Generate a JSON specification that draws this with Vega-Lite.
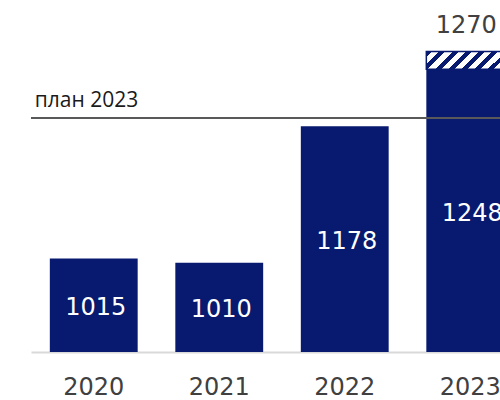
{
  "$schema": "https://vega.github.io/schema/vega-lite/v6.json",
  "autosize": {"type": "none"},
  "padding": {"left": 31, "top": 27, "right": 0, "bottom": 48},
  "width": 469,
  "height": 325,
  "background": "white",
  "config": {"view": {"stroke": null}},
  "data": {
    "values": [
      {"year": "2020", "value": 1015},
      {"year": "2021", "value": 1010},
      {"year": "2022", "value": 1178},
      {"year": "2023", "value": 1248, "total": 1270}
    ]
  },
  "encoding": {
    "x": {
      "field": "year",
      "type": "nominal",
      "sort": null,
      "scale": {"domain": ["2020", "2021", "2022", "2023"], "range": [0, 502], "paddingInner": 0.3, "paddingOuter": 0.15},
      "axis": {
        "title": null,
        "labelAngle": 0,
        "ticks": false,
        "domainColor": "#d9d9d9",
        "domainWidth": 2,
        "labelFont": "DejaVu Sans",
        "labelFontSize": 24,
        "labelColor": "#404040",
        "labelPadding": 23
      }
    }
  },
  "layer": [
    {
      "mark": {"type": "bar", "color": "#071a6f"},
      "encoding": {
        "y": {"field": "value", "type": "quantitative", "scale": {"domain": [900, 1300], "zero": false, "nice": false}, "axis": null},
        "y2": {"datum": 900}
      }
    },
    {
      "transform": [{"filter": "isValid(datum.total)"}],
      "mark": {
        "type": "bar",
        "stroke": "#071a6f",
        "strokeWidth": 1.5,
        "fill": {
          "gradient": "linear",
          "x1": 0, "y1": 0, "x2": 1.156, "y2": 0.236,
          "stops": [
            {"offset": 0, "color": "#071a6f"}, {"offset": 0.0563, "color": "#071a6f"}, {"offset": 0.0563, "color": "#ffffff"}, {"offset": 0.125, "color": "#ffffff"},
            {"offset": 0.125, "color": "#071a6f"}, {"offset": 0.1813, "color": "#071a6f"}, {"offset": 0.1813, "color": "#ffffff"}, {"offset": 0.25, "color": "#ffffff"},
            {"offset": 0.25, "color": "#071a6f"}, {"offset": 0.3063, "color": "#071a6f"}, {"offset": 0.3063, "color": "#ffffff"}, {"offset": 0.375, "color": "#ffffff"},
            {"offset": 0.375, "color": "#071a6f"}, {"offset": 0.4313, "color": "#071a6f"}, {"offset": 0.4313, "color": "#ffffff"}, {"offset": 0.5, "color": "#ffffff"},
            {"offset": 0.5, "color": "#071a6f"}, {"offset": 0.5563, "color": "#071a6f"}, {"offset": 0.5563, "color": "#ffffff"}, {"offset": 0.625, "color": "#ffffff"},
            {"offset": 0.625, "color": "#071a6f"}, {"offset": 0.6813, "color": "#071a6f"}, {"offset": 0.6813, "color": "#ffffff"}, {"offset": 0.75, "color": "#ffffff"},
            {"offset": 0.75, "color": "#071a6f"}, {"offset": 0.8063, "color": "#071a6f"}, {"offset": 0.8063, "color": "#ffffff"}, {"offset": 0.875, "color": "#ffffff"},
            {"offset": 0.875, "color": "#071a6f"}, {"offset": 0.9313, "color": "#071a6f"}, {"offset": 0.9313, "color": "#ffffff"}, {"offset": 1, "color": "#ffffff"}
          ]
        }
      },
      "encoding": {
        "y": {"field": "value", "type": "quantitative"},
        "y2": {"field": "total"}
      }
    },
    {
      "transform": [{"calculate": "(datum.value + 900) / 2", "as": "mid"}],
      "mark": {"type": "text", "color": "white", "font": "DejaVu Sans", "fontSize": 24, "baseline": "middle", "align": "center", "dx": 2, "dy": 3},
      "encoding": {
        "y": {"field": "mid", "type": "quantitative"},
        "text": {"field": "value", "type": "quantitative", "format": "d"}
      }
    },
    {
      "transform": [{"filter": "isValid(datum.total)"}],
      "mark": {"type": "text", "color": "#404040", "font": "DejaVu Sans", "fontSize": 24, "baseline": "alphabetic", "align": "center", "dy": -18, "dx": -4},
      "encoding": {
        "y": {"field": "total", "type": "quantitative"},
        "text": {"field": "total", "type": "quantitative", "format": "d"}
      }
    },
    {
      "data": {"values": [{"plan": 1188, "label": "план 2023"}]},
      "mark": {"type": "rule", "color": "#595959", "strokeWidth": 2},
      "encoding": {
        "x": null,
        "y": {"field": "plan", "type": "quantitative"}
      }
    },
    {
      "data": {"values": [{"plan": 1188, "label": "план 2023", "year": "2020"}]},
      "mark": {"type": "text", "color": "#1a1a1a", "font": "Open Sans", "fontSize": 21, "baseline": "alphabetic", "align": "left", "dy": -11, "dx": -15},
      "encoding": {
        "x": {"field": "year", "type": "nominal", "bandPosition": 0},
        "y": {"field": "plan", "type": "quantitative"},
        "text": {"field": "label"}
      }
    }
  ]
}
